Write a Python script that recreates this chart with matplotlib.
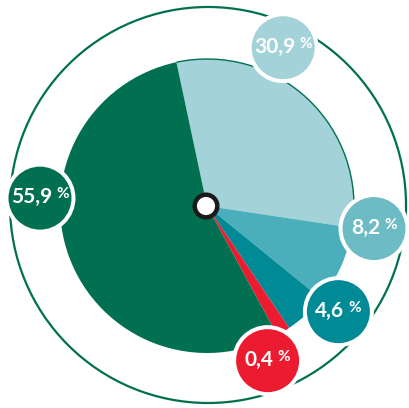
import numpy as np
import matplotlib
matplotlib.use('Agg')
import matplotlib.pyplot as plt
from matplotlib.patches import Circle, Arc
from matplotlib.offsetbox import TextArea, HPacker, AnnotationBbox

plt.rcParams['font.family'] = 'Lato'

values = [30.9, 8.2, 4.6, 0.4, 55.9]
labels = ['30,9', '8,2', '4,6', '0,4', '55,9']
# share of the circle each wedge takes in the picture (the small red one is drawn wider)
drawn = [30.7, 8.5, 4.7, 1.5, 54.6]
slice_colors = ['#a4d2d9', '#4aafba', '#008a96', '#ed1b2f', '#007051']
badge_colors = ['#a4d2d9', '#6dbbc4', '#008a96', '#ed1b2f', '#007051']
# badge placement: angle clockwise from top (deg), distance from centre (px)
badge_angle = [25.7, 97.7, 128.8, 158.6, 272.7]
badge_dist = [175.7, 168.5, 168.6, 166.1, 167.2]

W, H = 410, 408
cx, cy = 207, H - 206
R_pie = 147
R_ring = 198
green = '#007051'

fig = plt.figure(figsize=(W / 100, H / 100), dpi=100)
ax = fig.add_axes([0, 0, 1, 1])

# outer ring
ax.add_patch(Circle((cx + 1, cy + 1), R_ring, fill=False, ec=green, lw=1.6, zorder=1))

start = 102
wedges, _ = ax.pie(drawn, colors=slice_colors, startangle=start, counterclock=False,
                   radius=R_pie, center=(cx, cy), frame=True,
                   wedgeprops=dict(linewidth=0))
for w in wedges:
    w.set_zorder(2)

# thin green edge on the light blue arc
a0 = start - drawn[0] * 3.6
ax.add_patch(Arc((cx, cy), 2 * R_pie, 2 * R_pie, theta1=a0, theta2=start,
                 ec=green, lw=1.0, zorder=3))

# centre dot
ax.add_patch(Circle((cx - 1, cy), 11.3, fc='white', ec='#1a1a1a', lw=3.2, zorder=4))

# badges
for lab, col, ang, d in zip(labels, badge_colors, badge_angle, badge_dist):
    t = np.radians(ang)
    bx = cx + d * np.sin(t)
    by = cy + d * np.cos(t)
    ax.add_patch(Circle((bx, by), 35.5, fc='white', ec='none', zorder=5))
    ax.add_patch(Circle((bx, by), 31.5, fc=col, ec='none', zorder=6))
    num = TextArea(lab, textprops=dict(color='white', fontsize=15, fontweight='bold'))
    pct = TextArea('%', textprops=dict(color='white', fontsize=11, fontweight='bold'))
    box = HPacker(children=[num, pct], align='top', pad=0, sep=3)
    ab = AnnotationBbox(box, (bx, by + 1), frameon=False, box_alignment=(0.5, 0.5),
                        pad=0, zorder=7)
    ax.add_artist(ab)

ax.set_xlim(0, W)
ax.set_ylim(0, H)
ax.set_aspect('equal')
ax.axis('off')

fig.savefig('out.png', dpi=100)
